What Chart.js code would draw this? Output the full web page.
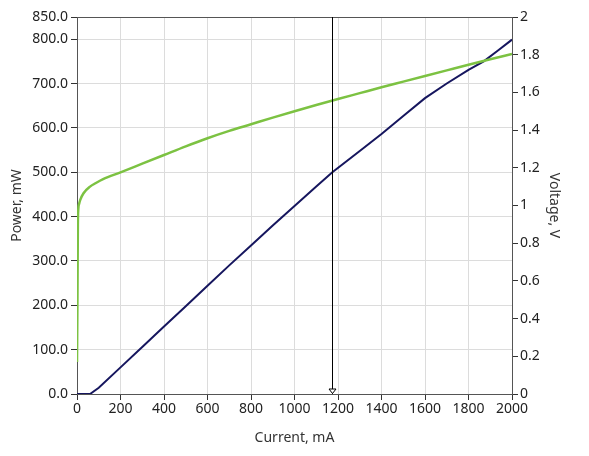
<!DOCTYPE html>
<html>
<head>
<meta charset="utf-8">
<script src="https://cdn.jsdelivr.net/npm/chart.js@4.4.0/dist/chart.umd.min.js"></script>
<style>
  html, body { margin: 0; padding: 0; background: #ffffff; }
  #wrap { width: 589px; height: 456px; position: relative; }
</style>
</head>
<body>
<div id="wrap"><canvas id="c" width="589" height="456"></canvas></div>
<script>
// ---- Data ----
const powerCurrent = [0, 30, 60, 100, 200, 300, 400, 500, 600, 700, 800, 900, 1000, 1100, 1174, 1300, 1400, 1500, 1600, 1700, 1800, 1870, 1940, 2000];
const powerValues  = [0, 0, 0, 14, 60, 106, 152, 198, 244, 290, 335, 380, 424, 468, 500, 548, 586, 627, 667, 700, 731, 750, 776, 799];

const voltageCurrent = [0, 2, 4, 6, 10, 15, 30, 60, 85, 120, 200, 300, 400, 500, 600, 700, 800, 900, 1000, 1100, 1200, 1300, 1400, 1500, 1600, 1700, 1800, 1900, 2000];
const voltageValues  = [0.17, 0.5, 0.9, 0.98, 1.01, 1.03, 1.065, 1.10, 1.118, 1.14, 1.176, 1.222, 1.268, 1.314, 1.357, 1.396, 1.431, 1.466, 1.50, 1.533, 1.565, 1.596, 1.627, 1.657, 1.687, 1.717, 1.747, 1.776, 1.804];

const cursorCurrent = 1172;
const powerTicks = [0, 100, 200, 300, 400, 500, 600, 700, 800, 850];
const voltageTicks = [0, 0.2, 0.4, 0.6, 0.8, 1, 1.2, 1.4, 1.6, 1.8, 2];
const xTitle = 'Current, mA';
const yLeftTitle = 'Power, mW';
const yRightTitle = 'Voltage, V';

const FONT = "'Noto Sans', 'Open Sans', sans-serif";
const FS = 14;

const frameAndCursor = {
  id: 'frameAndCursor',
  afterDatasetsDraw(chart) {
    const {ctx, chartArea: a, scales} = chart;
    ctx.save();
    ctx.strokeStyle = '#555555';
    ctx.lineWidth = 1;
    ctx.beginPath();
    ctx.moveTo(a.left, a.top + 0.5);
    ctx.lineTo(a.right, a.top + 0.5);
    ctx.stroke();
    const x = Math.round(scales.x.getPixelForValue(cursorCurrent)) + 0.5;
    ctx.strokeStyle = '#000000';
    ctx.beginPath();
    ctx.moveTo(x, a.top);
    ctx.lineTo(x, a.bottom);
    ctx.stroke();
    ctx.fillStyle = '#ffffff';
    ctx.beginPath();
    ctx.moveTo(x - 3.5, a.bottom - 5);
    ctx.lineTo(x + 3.5, a.bottom - 5);
    ctx.lineTo(x, a.bottom - 0.5);
    ctx.closePath();
    ctx.fill();
    ctx.stroke();
    ctx.restore();
  }
};

new Chart(document.getElementById('c'), {
  type: 'line',
  data: {
    datasets: [
      {
        label: 'Voltage',
        data: voltageCurrent.map((c, i) => ({x: c, y: voltageValues[i]})),
        yAxisID: 'y1',
        borderColor: '#7cc242',
        borderWidth: 2.5,
        pointRadius: 0,
        cubicInterpolationMode: 'monotone',
        fill: false
      },
      {
        label: 'Power',
        data: powerCurrent.map((c, i) => ({x: c, y: powerValues[i]})),
        yAxisID: 'y',
        borderColor: '#16165e',
        borderWidth: 2,
        pointRadius: 0,
        tension: 0,
        fill: false
      }
    ]
  },
  options: {
    responsive: false,
    animation: false,
    devicePixelRatio: 1,
    layout: { padding: { top: 17, left: 0, right: 0, bottom: 0 } },
    plugins: { legend: { display: false }, tooltip: { enabled: false } },
    scales: {
      x: {
        type: 'linear',
        min: 0, max: 2000,
        ticks: { stepSize: 200, color: '#222222', font: { family: FONT, size: FS }, padding: 1, maxRotation: 0, callback: v => String(v) },
        grid: { color: '#dcdcdc', tickColor: '#333333', tickLength: 6, lineWidth: 1 },
        border: { color: '#555555', width: 1 },
        title: { display: true, text: xTitle, color: '#333333', font: { family: FONT, size: FS }, padding: { top: 0, bottom: 10 } },
        afterFit(s) { s.height = 62; }
      },
      y: {
        type: 'linear',
        position: 'left',
        min: 0, max: 850,
        afterBuildTicks(s) { s.ticks = powerTicks.map(v => ({value: v})); },
        ticks: { color: '#222222', font: { family: FONT, size: FS }, padding: 3, callback: v => Number(v).toFixed(1) },
        grid: { color: '#dcdcdc', tickColor: '#333333', tickLength: 6, lineWidth: 1 },
        border: { color: '#555555', width: 1 },
        title: { display: true, text: yLeftTitle, color: '#333333', font: { family: FONT, size: FS }, padding: { top: 9, bottom: 0 } },
        afterFit(s) { s.width = 77; }
      },
      y1: {
        type: 'linear',
        position: 'right',
        min: 0, max: 2,
        afterBuildTicks(s) { s.ticks = voltageTicks.map(v => ({value: v})); },
        ticks: { color: '#222222', font: { family: FONT, size: FS }, padding: 2, callback: v => String(Math.round(v * 10) / 10) },
        grid: { drawOnChartArea: false, color: '#dcdcdc', tickColor: '#333333', tickLength: 6 },
        border: { color: '#555555', width: 1 },
        title: { display: true, text: yRightTitle, color: '#333333', font: { family: FONT, size: FS }, padding: { top: 27, bottom: 0 } },
        afterFit(s) { s.width = 77; }
      }
    }
  },
  plugins: [frameAndCursor]
});
</script>
</body>
</html>
